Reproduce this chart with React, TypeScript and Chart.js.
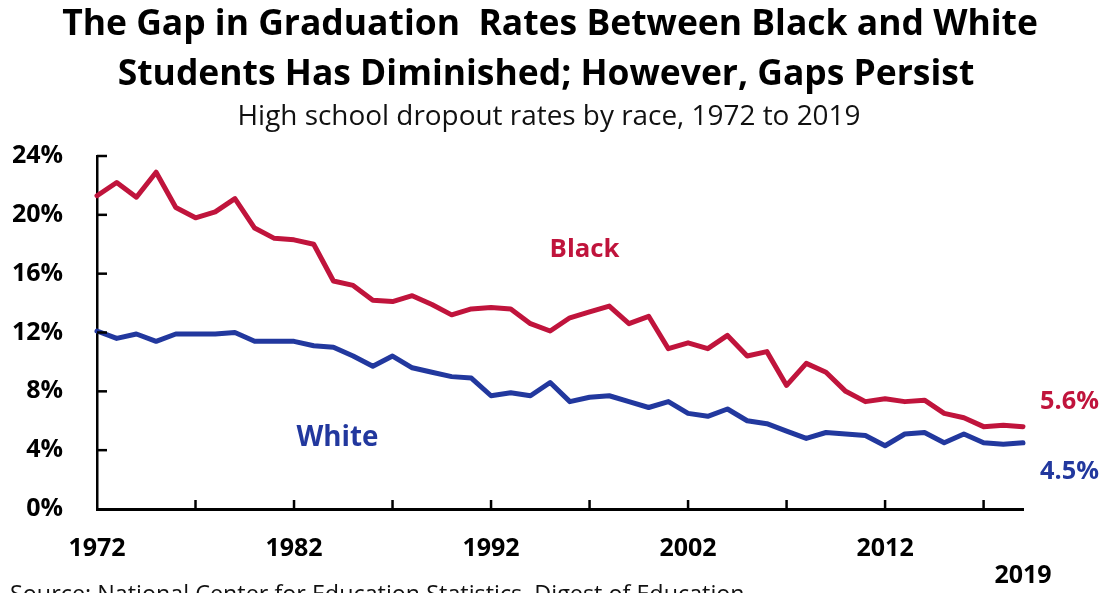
import React, { useEffect, useRef } from 'react';
import { Chart, registerables } from 'chart.js';

Chart.register(...registerables);

const YEARS = [
  1972, 1973, 1974, 1975, 1976, 1977, 1978, 1979, 1980, 1981,
  1982, 1983, 1984, 1985, 1986, 1987, 1988, 1989, 1990, 1991,
  1992, 1993, 1994, 1995, 1996, 1997, 1998, 1999, 2000, 2001,
  2002, 2003, 2004, 2005, 2006, 2007, 2008, 2009, 2010, 2011,
  2012, 2013, 2014, 2015, 2016, 2017, 2018, 2019,
];

const BLACK = [
  21.3, 22.2, 21.2, 22.9, 20.5, 19.8, 20.2, 21.1, 19.1, 18.4,
  18.3, 18.0, 15.5, 15.2, 14.2, 14.1, 14.5, 13.9, 13.2, 13.6,
  13.7, 13.6, 12.6, 12.1, 13.0, 13.4, 13.8, 12.6, 13.1, 10.9,
  11.3, 10.9, 11.8, 10.4, 10.7, 8.4, 9.9, 9.3, 8.0, 7.3,
  7.5, 7.3, 7.4, 6.5, 6.2, 5.6, 5.7, 5.6,
];

const WHITE = [
  12.1, 11.6, 11.9, 11.4, 11.9, 11.9, 11.9, 12.0, 11.4, 11.4,
  11.4, 11.1, 11.0, 10.4, 9.7, 10.4, 9.6, 9.3, 9.0, 8.9,
  7.7, 7.9, 7.7, 8.6, 7.3, 7.6, 7.7, 7.3, 6.9, 7.3,
  6.5, 6.3, 6.8, 6.0, 5.8, 5.3, 4.8, 5.2, 5.1, 5.0,
  4.3, 5.1, 5.2, 4.5, 5.1, 4.5, 4.4, 4.5,
];

const X_LABEL_YEARS = [1972, 1982, 1992, 2002, 2012];
const X_LAST_LABEL = '2019';
const X_TICK_MARK_YEARS = [1977, 1982, 1987, 1992, 1997, 2002, 2007, 2012, 2017];
const Y_TICKS = [0, 4, 8, 12, 16, 20, 24];

const TITLE_1 = 'The Gap in Graduation  Rates Between Black and White';
const TITLE_2 = 'Students Has Diminished; However, Gaps Persist';
const SUBTITLE = 'High school dropout rates by race, 1972 to 2019';
const SOURCE = 'Source: National Center for Education Statistics, Digest of Education';
const BLACK_LABEL = 'Black';
const WHITE_LABEL = 'White';
const BLACK_END = '5.6%';
const WHITE_END = '4.5%';

const RED = '#C0143C';
const BLUE = '#22389E';
const FONT = '"Open Sans", "DejaVu Sans", sans-serif';

function drawFit(
  ctx: CanvasRenderingContext2D,
  text: string,
  weight: string,
  width: number,
  x: number,
  y: number,
  align: CanvasTextAlign,
  baseline: CanvasTextBaseline,
  color: string
) {
  ctx.font = `${weight} 100px ${FONT}`;
  const w = ctx.measureText(text).width;
  const size = (100 * width) / w;
  ctx.font = `${weight} ${size}px ${FONT}`;
  ctx.textAlign = align;
  ctx.textBaseline = baseline;
  ctx.fillStyle = color;
  ctx.fillText(text, x, y);
}

const annotate = {
  id: 'annotate',
  afterDraw(chart: any) {
    const { ctx } = chart;
    const x = chart.scales.x;
    const y = chart.scales.y;
    ctx.save();
    ctx.strokeStyle = '#000';
    ctx.lineWidth = 2.5;
    X_TICK_MARK_YEARS.forEach((yr) => {
      const px = x.getPixelForValue(YEARS.indexOf(yr));
      ctx.beginPath();
      ctx.moveTo(px, y.bottom);
      ctx.lineTo(px, y.bottom - 9);
      ctx.stroke();
    });
    Y_TICKS.forEach((v) => {
      if (v === 0) return;
      const py = y.getPixelForValue(v);
      ctx.beginPath();
      ctx.moveTo(x.left, py);
      ctx.lineTo(x.left + 10, py);
      ctx.stroke();
    });

    drawFit(ctx, TITLE_1, 'bold', 976, 550, 35, 'center', 'alphabetic', '#000');
    drawFit(ctx, TITLE_2, 'bold', 857, 546, 85, 'center', 'alphabetic', '#000');
    drawFit(ctx, SUBTITLE, 'normal', 623, 549, 125, 'center', 'alphabetic', '#111');
    drawFit(ctx, SOURCE, 'normal', 735, 10, 602, 'left', 'alphabetic', '#111');

    const bx = x.getPixelForValue(YEARS.indexOf(1997));
    drawFit(ctx, BLACK_LABEL, 'bold', 70, bx - 5, y.getPixelForValue(17.6), 'center', 'middle', RED);
    const wx = x.getPixelForValue(YEARS.indexOf(1984));
    drawFit(ctx, WHITE_LABEL, 'bold', 82, wx + 4, y.getPixelForValue(4.8), 'center', 'middle', BLUE);

    const ex = x.getPixelForValue(YEARS.length - 1) + 17;
    drawFit(ctx, BLACK_END, 'bold', 59, ex, y.getPixelForValue(7.3), 'left', 'middle', RED);
    drawFit(ctx, WHITE_END, 'bold', 59, ex, y.getPixelForValue(2.5), 'left', 'middle', BLUE);
    ctx.restore();
  },
};

export default function App() {
  const ref = useRef<HTMLCanvasElement | null>(null);

  useEffect(() => {
    document.body.style.margin = '0';
    document.body.style.overflow = 'hidden';
    const canvas = ref.current;
    if (!canvas) return;
    const chart = new Chart(canvas, {
      type: 'line',
      data: {
        labels: YEARS.map(String),
        datasets: [
          {
            label: 'Black',
            data: BLACK,
            borderColor: RED,
            backgroundColor: RED,
            borderWidth: 5,
            pointRadius: 0,
            tension: 0,
            borderJoinStyle: 'round',
            borderCapStyle: 'round',
            clip: false,
          },
          {
            label: 'White',
            data: WHITE,
            borderColor: BLUE,
            backgroundColor: BLUE,
            borderWidth: 5,
            pointRadius: 0,
            tension: 0,
            borderJoinStyle: 'round',
            borderCapStyle: 'round',
            clip: false,
          },
        ],
      },
      options: {
        responsive: true,
        maintainAspectRatio: false,
        animation: false,
        layout: { padding: { top: 156, right: 85, left: 0, bottom: 0 } },
        plugins: {
          legend: { display: false },
          tooltip: { enabled: false },
          title: { display: false },
        },
        scales: {
          x: {
            type: 'category',
            grid: { display: false, drawTicks: false },
            border: { display: true, color: '#000', width: 3 },
            ticks: {
              autoSkip: false,
              maxRotation: 0,
              minRotation: 0,
              padding: 26,
              color: '#000',
              font: { family: FONT, size: 25, weight: 'bold', lineHeight: 1.1 },
              callback: (_v: any, i: number) => {
                const yr = YEARS[i];
                if (X_LABEL_YEARS.includes(yr)) return String(yr);
                if (i === YEARS.length - 1) return ['', X_LAST_LABEL];
                return '';
              },
            },
            afterFit: (s: any) => {
              s.height = 84;
            },
          },
          y: {
            min: 0,
            max: 24,
            grid: { display: false, drawTicks: false },
            border: { display: true, color: '#000', width: 2.5 },
            ticks: {
              stepSize: 4,
              padding: 34,
              color: '#000',
              font: { family: FONT, size: 25, weight: 'bold' },
              callback: (v: any) => `${v}%`,
            },
            afterFit: (s: any) => {
              s.width = 97;
            },
          },
        },
      },
      plugins: [annotate],
    } as any);
    return () => chart.destroy();
  }, []);

  return (
    <div style={{ position: 'fixed', left: 0, top: 0, width: 1108, height: 593, background: '#fff' }}>
      <canvas ref={ref} />
    </div>
  );
}
